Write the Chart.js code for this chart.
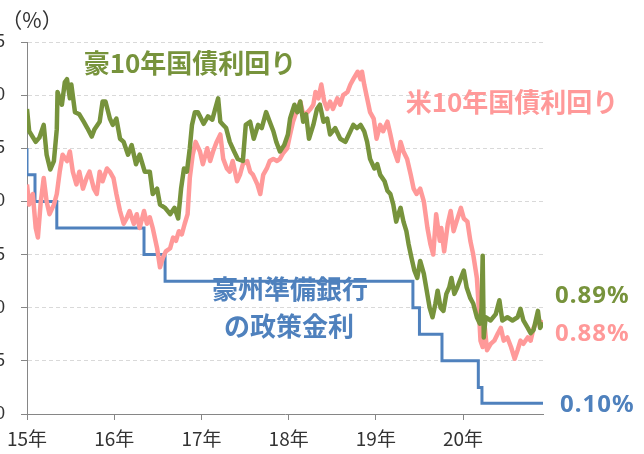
<!DOCTYPE html>
<html>
<head>
<meta charset="utf-8">
<script src="https://cdn.jsdelivr.net/npm/chart.js@4.4.1/dist/chart.umd.min.js"></script>
<style>
  body { margin: 0; background: #fff; }
  #wrap { position: relative; width: 644px; height: 454px; overflow: hidden; }
  #myChart { position: absolute; left: -40px; top: 0; }
</style>
</head>
<body>
<div id="wrap"><canvas id="myChart" width="684" height="454"></canvas></div>
<script>
// months since Jan 2015
let auMonths = [0,0.3,1.2,1.7,2.3,2.7,3.2,3.7,4.1,4.2,4.8,5.2,5.5,5.9,6.1,6.6,7.2,7.8,8.3,8.9,9.3,10.0,10.4,10.8,11.4,11.8,12.3,12.8,13.3,13.9,14.4,15.0,15.5,16.2,16.9,17.3,17.9,18.3,19.0,19.7,20.3,20.8,21.2,21.6,22.0,22.4,22.7,23.1,23.5,23.8,24.3,24.9,25.5,25.9,26.3,26.6,27.0,27.4,27.9,28.5,29.0,29.7,30.1,30.7,31.2,31.8,32.3,32.9,33.4,33.9,34.3,34.8,35.4,35.9,36.2,36.8,37.2,37.6,38.0,38.4,38.8,39.4,39.9,40.3,40.8,41.3,41.7,42.4,43.1,43.8,44.5,44.9,45.4,45.9,46.4,46.8,47.2,47.8,48.2,48.6,49.2,49.6,50.0,50.4,50.8,51.1,51.4,51.8,52.2,52.5,52.9,53.3,53.7,54.1,54.6,55.0,55.4,55.8,56.2,56.5,56.9,57.3,57.7,58.1,58.4,58.8,59.2,59.7,60.1,60.5,61.0,61.4,61.9,62.3,62.55,62.7,62.85,63.1,63.8,64.5,65.0,65.4,66.1,66.8,67.5,67.9,68.3,68.9,69.3,69.7,70.3,70.6,71.0];
let auYields = [2.87,2.66,2.56,2.60,2.72,2.44,2.30,2.38,2.68,3.03,2.91,3.12,3.15,2.97,3.10,2.84,2.82,2.75,2.69,2.61,2.68,2.75,2.94,2.94,2.78,2.72,2.78,2.59,2.56,2.44,2.53,2.35,2.44,2.28,2.28,2.07,2.12,1.97,1.94,1.88,1.94,1.84,2.12,2.31,2.28,2.50,2.72,2.84,2.84,2.80,2.73,2.80,2.77,2.87,2.97,2.75,2.72,2.69,2.56,2.47,2.40,2.38,2.72,2.75,2.59,2.72,2.69,2.84,2.75,2.66,2.56,2.47,2.53,2.63,2.78,2.91,2.84,2.94,2.75,2.82,2.59,2.72,2.87,2.91,2.75,2.78,2.63,2.69,2.59,2.56,2.66,2.72,2.69,2.72,2.66,2.56,2.40,2.31,2.35,2.25,2.19,2.10,2.07,1.97,1.81,1.88,1.94,1.81,1.72,1.60,1.47,1.35,1.28,1.44,1.32,1.16,1.00,0.91,1.04,1.16,1.00,0.97,1.13,1.19,1.28,1.13,1.19,1.28,1.35,1.19,1.09,1.04,0.91,0.85,1.00,1.49,0.72,0.91,0.88,0.94,1.07,0.88,0.91,0.88,0.91,0.99,0.88,0.81,0.76,0.79,0.97,0.81,0.86];

let usMonths = [0,0.3,0.8,1.2,1.5,1.9,2.3,2.7,3.1,3.7,4.1,4.5,4.9,5.5,5.9,6.3,6.8,7.2,7.7,8.2,8.6,9.2,9.6,10.0,10.4,11.0,11.4,11.9,12.3,12.8,13.3,13.7,14.1,14.7,15.1,15.5,16.1,16.5,16.9,17.3,17.9,18.3,18.7,19.1,19.7,20.1,20.5,20.9,21.3,21.7,22.1,22.4,22.8,23.2,23.8,24.2,24.8,25.2,25.6,26.1,26.6,27.0,27.5,27.9,28.3,28.9,29.3,29.7,30.3,30.7,31.1,31.7,32.1,32.5,33.0,33.4,33.9,34.4,34.8,35.2,35.8,36.2,36.6,37.2,37.6,38.0,38.6,39.0,39.4,39.7,40.1,40.5,40.9,41.3,41.7,42.1,42.7,43.1,43.5,44.1,44.5,44.9,45.5,45.9,46.1,46.4,46.8,47.2,47.7,48.1,48.6,49.0,49.6,50.0,50.4,51.0,51.4,51.8,52.3,52.8,53.2,53.6,54.1,54.6,55.1,55.5,55.9,56.3,56.8,57.0,57.4,57.9,58.3,58.7,59.1,59.7,60.1,60.6,61.0,61.4,61.9,62.1,62.4,62.7,63.0,63.3,63.8,64.3,64.8,65.2,65.6,66.1,66.6,67.1,67.5,67.9,68.3,68.9,69.3,69.7,70.3,70.7,71.0];
let usYields = [2.16,1.97,2.07,1.75,1.66,2.00,2.22,2.00,1.88,1.97,2.07,2.28,2.44,2.38,2.47,2.28,2.16,2.28,2.12,2.22,2.28,2.12,2.07,2.28,2.19,2.31,2.28,2.22,2.07,1.91,1.79,1.84,1.91,1.79,1.88,1.75,1.91,1.79,1.85,1.75,1.56,1.38,1.47,1.53,1.56,1.66,1.63,1.72,1.69,1.79,1.88,2.22,2.44,2.56,2.47,2.35,2.50,2.38,2.47,2.56,2.63,2.40,2.31,2.28,2.38,2.19,2.25,2.35,2.38,2.28,2.25,2.16,2.07,2.25,2.31,2.38,2.40,2.38,2.40,2.45,2.50,2.63,2.75,2.87,2.94,2.82,2.84,2.87,2.91,3.03,2.97,3.10,2.94,2.87,2.94,2.87,2.97,2.91,3.00,3.03,3.10,3.15,3.22,3.15,3.22,3.10,2.97,2.84,2.78,2.59,2.72,2.66,2.75,2.63,2.50,2.38,2.56,2.47,2.40,2.25,2.12,2.07,2.12,2.00,1.75,1.60,1.50,1.88,1.63,1.75,1.53,1.79,1.91,1.72,1.81,1.94,1.84,1.81,1.63,1.50,1.28,1.07,0.69,0.63,0.81,0.60,0.66,0.69,0.76,0.81,0.69,0.72,0.63,0.52,0.60,0.69,0.66,0.72,0.69,0.81,0.88,0.85,0.88];

let rbaMonths = [0,1.1,4.1,16.1,19.0,53.1,54.0,57.1,62.1,62.6,70.1,71.0];
let rbaRates = [2.5,2.25,2.0,1.75,1.5,1.25,1.0,0.75,0.5,0.25,0.1,0.1];

let yearLabels = ["15年","16年","17年","18年","19年","20年"];

let green = "#77933C";
let pink = "#FF9999";
let blue = "#4F81BD";
let jp = "'Noto Sans CJK JP', 'Noto Sans', sans-serif";

function toPoints(xs, ys) {
    return ys.map((v, i) => ({ x: xs[i], y: v }));
}

// texts on the chart (offset 40 because the canvas is shifted left)
let labelsPlugin = {
    id: "labels",
    afterDraw(chart) {
        let c = chart.ctx;
        c.save();
        c.textBaseline = "middle";
        c.textAlign = "center";
        c.fillStyle = "#333";
        c.font = "21px " + jp;
        c.fillText("（%）", 72, 20);

        c.font = "bold 26px " + jp;
        c.fillStyle = green;
        c.fillText("豪10年国債利回り", 230, 63);
        c.fillStyle = pink;
        c.fillText("米10年国債利回り", 552, 102);
        c.fillStyle = blue;
        c.fillText("豪州準備銀行", 330, 289);
        c.fillText("の政策金利", 329, 326);

        c.font = "bold 24px 'Noto Sans', sans-serif";
        c.letterSpacing = "1px";
        c.textAlign = "left";
        c.fillStyle = green;
        c.fillText("0.89%", 595, 296);
        c.fillStyle = pink;
        c.fillText("0.88%", 595, 334);
        c.fillStyle = blue;
        c.fillText("0.10%", 600, 405);
        c.restore();
    }
};

let ctx = document.getElementById("myChart").getContext("2d");

let yieldChart = new Chart(ctx, {
    type: "line",
    data: {
        datasets: [
            {
                label: "豪10年国債利回り",
                data: toPoints(auMonths, auYields),
                borderColor: green,
                borderWidth: 4.5,
                pointRadius: 0,
                tension: 0,
                borderJoinStyle: "round",
                order: 1
            },
            {
                label: "米10年国債利回り",
                data: toPoints(usMonths, usYields),
                borderColor: pink,
                borderWidth: 4.5,
                pointRadius: 0,
                tension: 0,
                borderJoinStyle: "round",
                order: 2
            },
            {
                label: "豪州準備銀行の政策金利",
                data: toPoints(rbaMonths, rbaRates),
                borderColor: blue,
                borderWidth: 3,
                pointRadius: 0,
                stepped: "after",
                order: 3
            }
        ]
    },
    options: {
        responsive: false,
        animation: false,
        layout: { padding: { top: 42, right: 101, left: 0, bottom: 0 } },
        plugins: { legend: { display: false }, tooltip: { enabled: false } },
        scales: {
            x: {
                type: "linear",
                min: 0,
                max: 71,
                border: { color: "#868686", width: 1 },
                grid: { drawOnChartArea: false, drawTicks: true, tickLength: 6, color: "#868686" },
                ticks: {
                    stepSize: 12,
                    includeBounds: false,
                    padding: 7,
                    color: "#333",
                    font: { size: 19, family: jp },
                    maxRotation: 0,
                    callback: (v) => yearLabels[v / 12]
                },
                afterFit: (s) => { s.height = 40; }
            },
            y: {
                min: 0,
                max: 3.5,
                border: { color: "#868686", width: 1, dash: [4, 3] },
                grid: { color: "#d9d9d9", tickColor: "#868686", tickLength: 6 },
                ticks: {
                    stepSize: 0.5,
                    padding: 16,
                    color: "#333",
                    font: { size: 18, family: "'Liberation Sans', sans-serif" },
                    callback: (v) => v.toFixed(1)
                },
                afterFit: (s) => { s.width = 67; }
            }
        }
    },
    plugins: [labelsPlugin]
});
</script>
</body>
</html>
